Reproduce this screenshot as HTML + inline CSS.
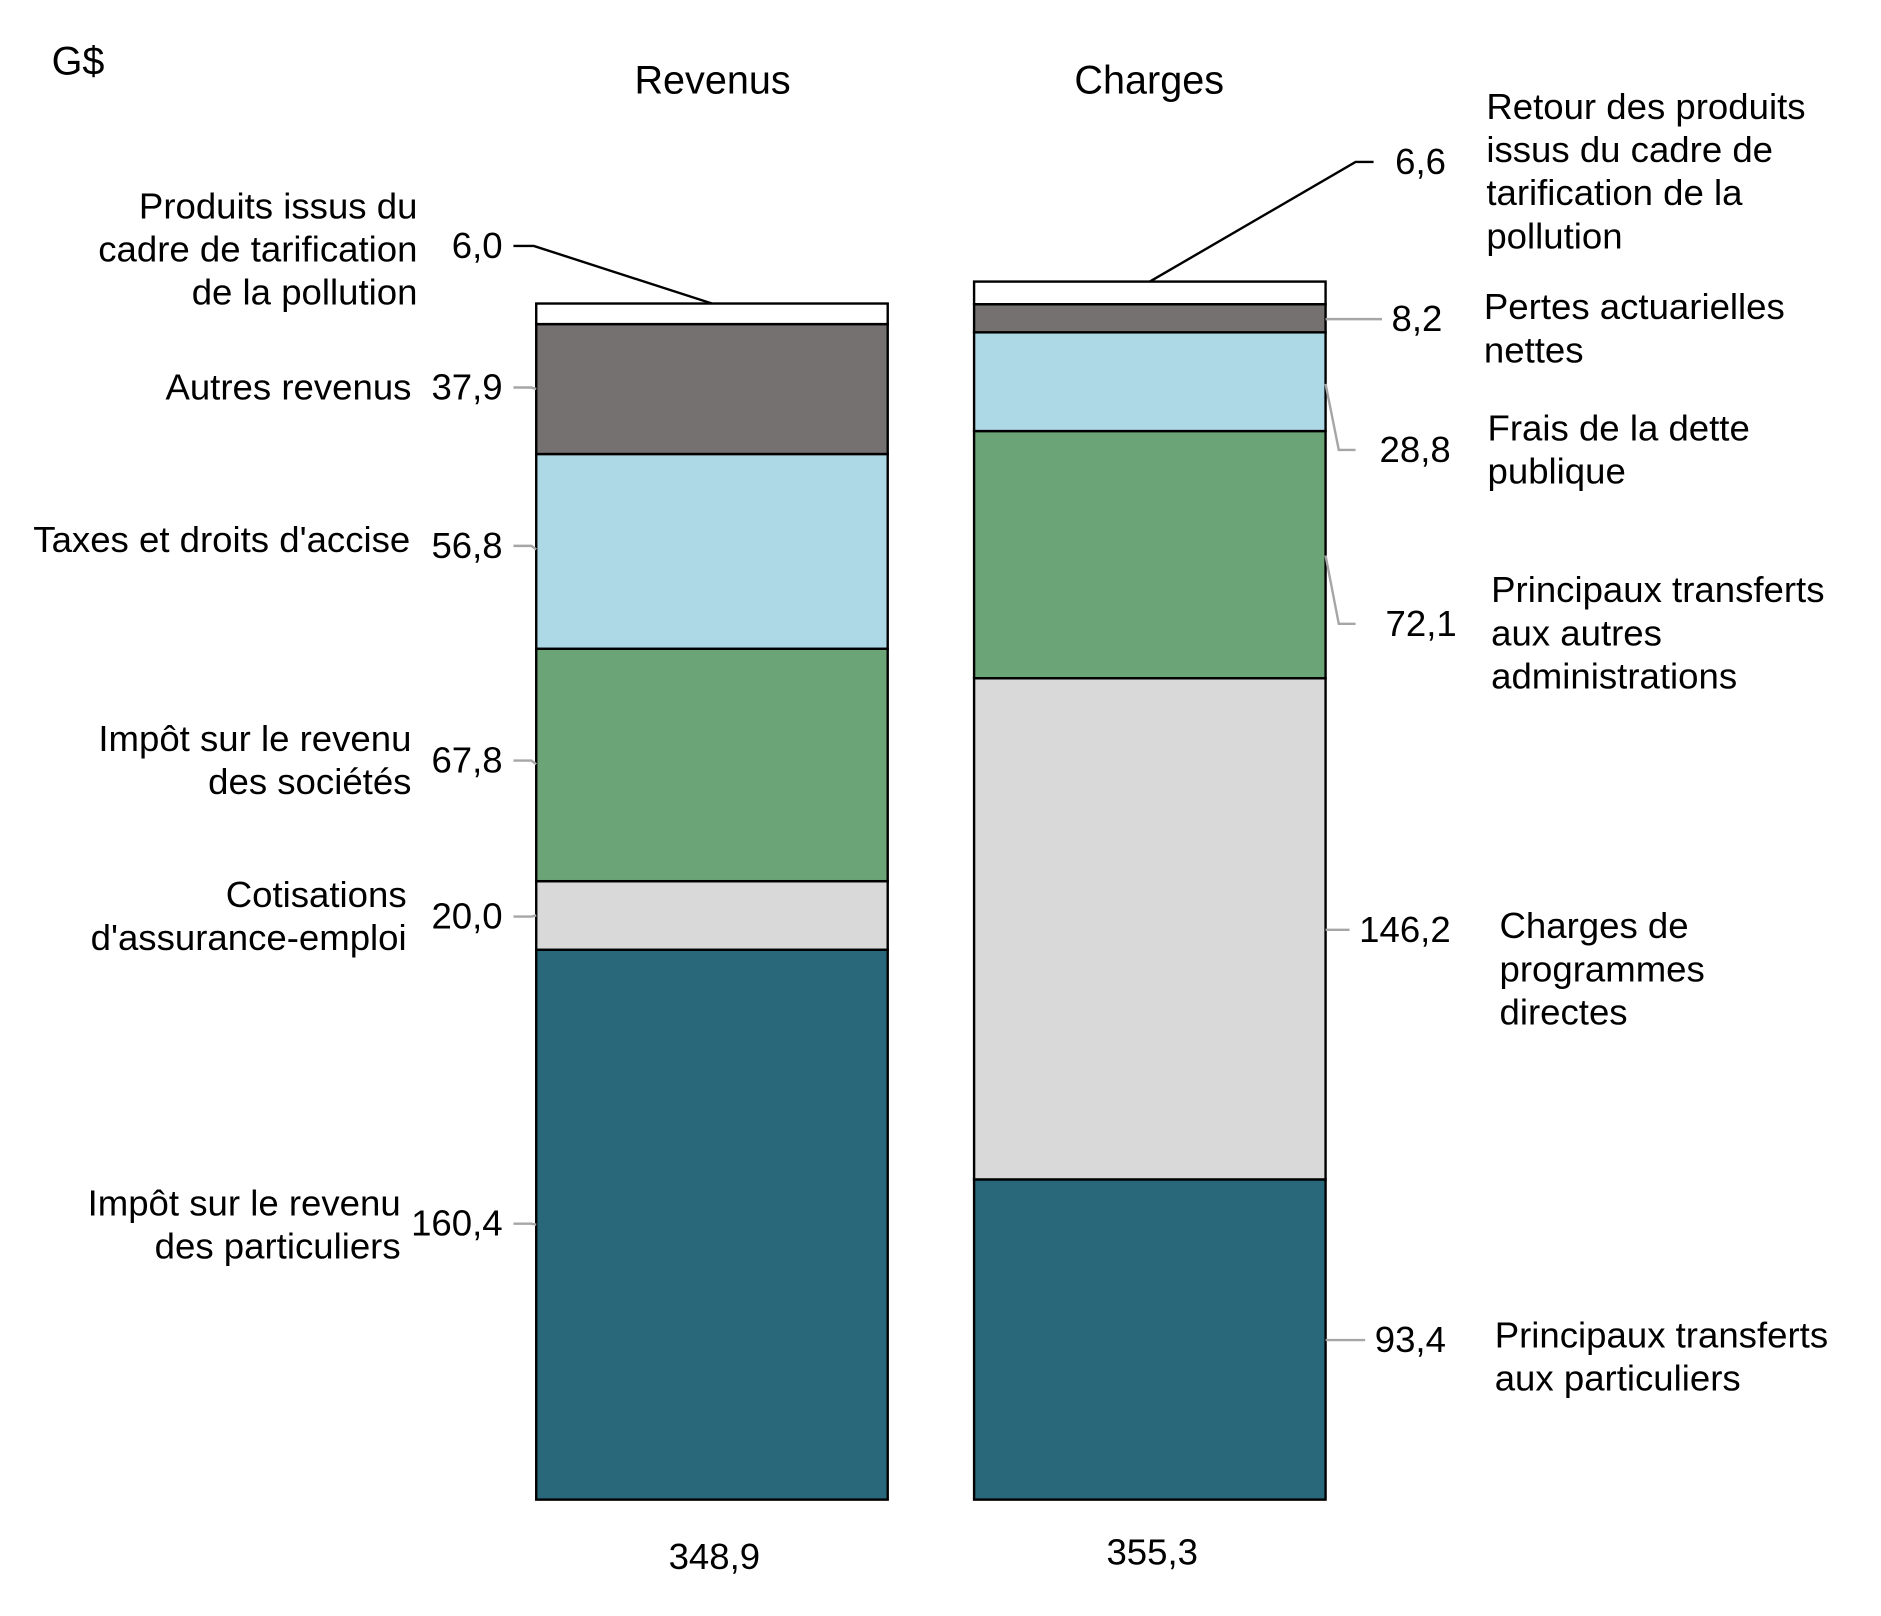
<!DOCTYPE html>
<html><head><meta charset="utf-8">
<style>
html,body{margin:0;padding:0;background:#fff;}
svg{display:block;}
text{font-family:"Liberation Sans",Arial,sans-serif;font-size:30.5px;fill:#000;}
.title{font-size:33px;}
</style></head>
<body>
<svg id="chart" width="1881" height="1616" viewBox="0 0 1568 1347" preserveAspectRatio="none" xmlns="http://www.w3.org/2000/svg">
<text class="title" x="43" y="62">G$</text>
<text class="title" x="594" y="78" text-anchor="middle">Revenus</text>
<text class="title" x="958" y="78" text-anchor="middle">Charges</text>
<g id="bars"></g>
<g id="leaders"></g>
<g id="labels"></g>
</svg>
<script>
const categories = ["Revenus", "Charges"];
const revenueValues = [160.4, 20.0, 67.8, 56.8, 37.9, 6.0];
const chargeValues = [93.4, 146.2, 72.1, 28.8, 8.2, 6.6];
const revenueLabels = ["160,4", "20,0", "67,8", "56,8", "37,9", "6,0"];
const chargeLabels = ["93,4", "146,2", "72,1", "28,8", "8,2", "6,6"];
const totalLabels = ["348,9", "355,3"];
const revenueNames = [["Impôt sur le revenu","des particuliers"],["Cotisations","d'assurance-emploi"],["Impôt sur le revenu","des sociétés"],["Taxes et droits d'accise"],["Autres revenus"],["Produits issus du","cadre de tarification","de la pollution"]];
const chargeNames = [["Principaux transferts","aux particuliers"],["Charges de","programmes","directes"],["Principaux transferts","aux autres","administrations"],["Frais de la dette","publique"],["Pertes actuarielles","nettes"],["Retour des produits","issus du cadre de","tarification de la","pollution"]];
const colors = ["#28687a","#d9d9d9","#6ba577","#add8e6","#767171","#ffffff"];

const NS = "http://www.w3.org/2000/svg";
const baseY = 1250, pxPerUnit = 997/348.9;
const yScale = v => baseY - v*pxPerUnit;
const barX = [447, 812], barW = 293;
const gB = document.getElementById('bars'), gL = document.getElementById('leaders'), gT = document.getElementById('labels');

function mk(tag, attrs, parent){const e=document.createElementNS(NS,tag);for(const k in attrs)e.setAttribute(k,attrs[k]);parent.appendChild(e);return e;}

const stacks = [revenueValues, chargeValues];
const segTops = [[],[]], segBots=[[],[]];
stacks.forEach((vals, bi) => {
  let cum = 0;
  vals.forEach((v, i) => {
    const y0 = yScale(cum), y1 = yScale(cum+v);
    segBots[bi].push(y0); segTops[bi].push(y1);
    const r = mk('rect', {x:barX[bi], y:y1, width:barW, height:y0-y1, fill:colors[i], stroke:'#000', 'stroke-width':2}, gB);
    
    
    cum += v;
  });
  const t = mk('text', {x:barX[bi]+barW/2+2, y:bi===0?1308:1304, 'text-anchor':'middle'}, gT);
  t.textContent = totalLabels[bi];
  
  
});

const revLabelY = [1020, 764, 634, 455, 323, 205];
const revNameY = [[1003,1039],[746,782],[616,652],[450],[323],[172,208,244]];
const revNameX = [334, 339, 343, 342, 343, 348];
revenueValues.forEach((v,i)=>{
  const t = mk('text', {x:419, y:revLabelY[i]+10, 'text-anchor':'end'}, gT);
  t.textContent = revenueLabels[i];
  
  
  revenueNames[i].forEach((ln,j)=>{
    const n = mk('text', {x:revNameX[i], y:revNameY[i][j]+10, 'text-anchor':'end'}, gT);
    n.textContent = ln;
    
    
  });
  let d;
  if(i===5){ d = `M428 ${revLabelY[i]} L445 ${revLabelY[i]} L${barX[0]+barW/2} ${segTops[0][i]}`; }
  else { const my=(segTops[0][i]+segBots[0][i])/2; d = `M428 ${revLabelY[i]} L443 ${revLabelY[i]} L${barX[0]} ${Math.min(my,revLabelY[i]+3)}`; }
  const p = mk('path', {d, fill:'none', stroke: i===5?'#000':'#a6a6a6', 'stroke-width':2}, gL);
  
  
});

const chgLabelY = [1117, 775, 520, 375, 266, 135];
const chgValX = [1146, 1133, 1155, 1150, 1160, 1163];
const chgNameX = [1246, 1250, 1243, 1240, 1237, 1239];
const chgNameY = [[1113,1149],[772,808,844],[492,528,564],[357,393],[256,292],[89,125,161,197]];
const chgAttachY = [1117, 775, 463, 320, 266, 0];
chargeValues.forEach((v,i)=>{
  const t = mk('text', {x:chgValX[i], y:chgLabelY[i]+10}, gT);
  t.textContent = chargeLabels[i];
  
  
  chargeNames[i].forEach((ln,j)=>{
    const n = mk('text', {x:chgNameX[i], y:chgNameY[i][j]+10}, gT);
    n.textContent = ln;
    
    
  });
  const bx = barX[1]+barW;
  let d;
  if(i===5) d = `M${barX[1]+barW/2} ${segTops[1][i]} L1130 ${chgLabelY[i]} L1145 ${chgLabelY[i]}`;
  else if(i===3||i===2) d = `M${bx} ${chgAttachY[i]} L${bx+11} ${chgLabelY[i]} L1130 ${chgLabelY[i]}`;
  else d = `M${bx} ${chgLabelY[i]} L${chgValX[i]-8} ${chgLabelY[i]}`;
  const p = mk('path', {d, fill:'none', stroke: i===5?'#000':'#a6a6a6', 'stroke-width':2}, gL);
  
  
});
</script>
</body></html>
